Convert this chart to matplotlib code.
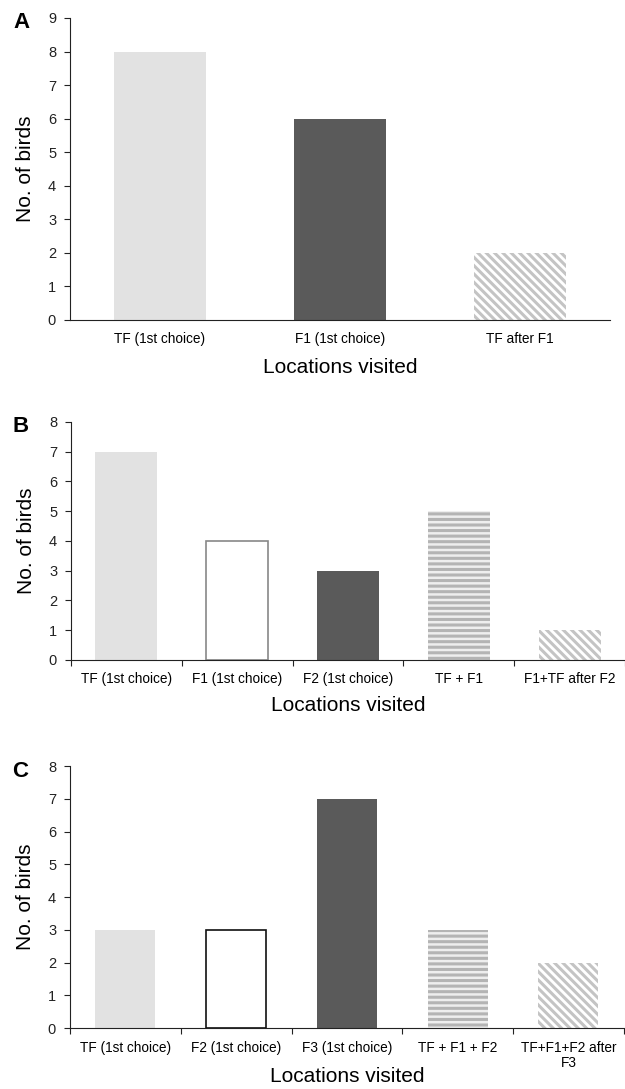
import matplotlib.pyplot as plt
import numpy as np

plt.rcParams['font.family'] = ['Liberation Sans', 'DejaVu Sans']
plt.rcParams['hatch.linewidth'] = 2.2

# panel A
cats_a = ["TF (1st choice)", "F1 (1st choice)", "TF after F1"]
vals_a = [8, 6, 2]
# panel B
cats_b = ["TF (1st choice)", "F1 (1st choice)", "F2 (1st choice)", "TF + F1", "F1+TF after F2"]
vals_b = [7, 4, 3, 5, 1]
# panel C
cats_c = ["TF (1st choice)", "F2 (1st choice)", "F3 (1st choice)", "TF + F1 + F2", "TF+F1+F2 after\nF3"]
vals_c = [3, 3, 7, 3, 2]

LIGHT = '#e2e2e2'
DARK = '#5a5a5a'
STRIPE = '#b4b4b4'

# style per bar: (face, edge, hatch, lw)
sty_light = (LIGHT, LIGHT, None, 0)
sty_dark = (DARK, DARK, None, 0)
sty_diag = ('white', '#c4c4c4', '\\\\\\\\', 0)
sty_horz = ('#eeeeee', STRIPE, '---', 0)


def panel(ax, cats, vals, styles, width, ymax, letter, ticks, white_edge, xlab_size):
    x = np.arange(len(cats))
    for i in range(len(cats)):
        st = styles[i]
        if st == 'white':
            ax.bar(x[i], vals[i], width, color='white', edgecolor=white_edge, linewidth=1.2, zorder=2)
        else:
            fc, ec, h, lw = st
            ax.bar(x[i], vals[i], width, color=fc, edgecolor=ec, hatch=h, linewidth=lw, zorder=2)
    ax.set_xlim(-0.5, len(cats) - 0.5)
    ax.set_ylim(0, ymax)
    ax.set_yticks(range(ymax + 1))
    ax.spines['top'].set_visible(False)
    ax.spines['right'].set_visible(False)
    ax.spines['left'].set_color('#222222')
    ax.spines['bottom'].set_color('#222222')
    ax.tick_params(axis='y', direction='out', length=4, width=0.8, labelsize=10.5, pad=6, colors='#222222')
    ax.set_xticks(x)
    ax.set_xticklabels(cats, fontsize=9.8, linespacing=1.15)
    if ticks:
        ax.set_xticks(np.arange(len(cats) + 1) - 0.5, minor=True)
        ax.tick_params(axis='x', which='minor', length=4, width=0.8, direction='out', colors='#222222')
    ax.tick_params(axis='x', which='major', length=0, pad=9)
    ax.set_ylabel('No. of birds', fontsize=15, labelpad=9)
    ax.set_xlabel('Locations visited', fontsize=xlab_size)
    # panel letter sits a few pixels below the top of the y axis
    h_px = ax.get_position().height * 1089
    ax.text(-0.105, 1.0 - 5.0 / h_px, letter, transform=ax.transAxes, fontsize=16, fontweight='bold',
            ha='left', va='center')


fig = plt.figure(figsize=(6.25, 10.89), dpi=100)
ax_a = fig.add_axes([0.112, 0.7062, 0.864, 0.2773])
ax_b = fig.add_axes([0.1136, 0.394, 0.8864, 0.2185])
ax_c = fig.add_axes([0.112, 0.056, 0.886, 0.2406])

panel(ax_a, cats_a, vals_a, [sty_light, sty_dark, sty_diag], 0.51, 9, 'A', False, '#888888', 15)
panel(ax_b, cats_b, vals_b, [sty_light, 'white', sty_dark, sty_horz, sty_diag], 0.56, 8, 'B', True, '#888888', 15)
panel(ax_c, cats_c, vals_c, [sty_light, 'white', sty_dark, sty_horz, sty_diag], 0.54, 8, 'C', True, '#111111', 15)

ax_a.xaxis.labelpad = 8
ax_b.xaxis.labelpad = 7
ax_c.xaxis.labelpad = -2

fig.savefig('out.png', dpi=100)
